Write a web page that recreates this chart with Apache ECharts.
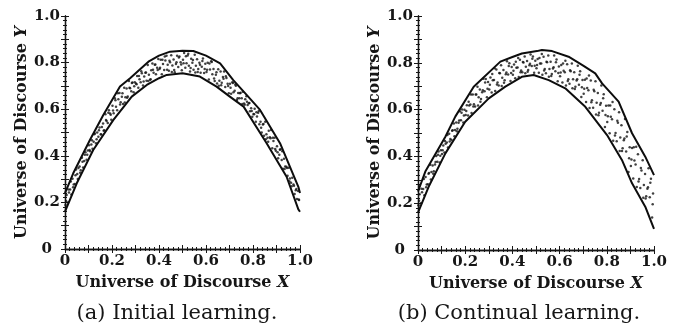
<!DOCTYPE html>
<html>
<head>
<meta charset="utf-8">
<script src="https://cdn.jsdelivr.net/npm/echarts@6/dist/echarts.min.js"></script>
<style>
  html, body { margin: 0; padding: 0; background: #fff; }
  #chart { width: 682px; height: 324px; }
</style>
</head>
<body>
<div id="chart"></div>
<script>
// Tick labels shown every 0.2 on both axes
const tickLabels = ['0', '0.2', '0.4', '0.6', '0.8', '1.0'];
const captions = ['(a) Initial learning.', '(b) Continual learning.'];
const axisTitle = 'Universe of Discourse';

// (a) Initial learning: upper and lower envelope of the learned band
const initUpper = [[0,0.24],[0.035,0.325],[0.106,0.468],[0.163,0.575],[0.234,0.697],[0.277,0.733],[0.355,0.804],[0.4,0.83],[0.447,0.847],[0.5,0.851],[0.546,0.85],[0.6,0.83],[0.66,0.797],[0.716,0.725],[0.77,0.665],[0.83,0.597],[0.915,0.454],[0.993,0.267],[1,0.24]];
const initLower = [[0,0.16],[0.05,0.282],[0.12,0.425],[0.206,0.554],[0.284,0.654],[0.348,0.704],[0.4,0.733],[0.433,0.747],[0.5,0.754],[0.574,0.74],[0.645,0.697],[0.7,0.655],[0.76,0.611],[0.858,0.454],[0.943,0.31],[0.993,0.17],[1,0.16]];
// (a) samples inside the band
const initSamples = [
[0.002,0.189],[0.007,0.232],[0.012,0.200],[0.017,0.243],[0.022,0.255],[0.027,0.234],[0.032,0.302],[0.037,0.277],
[0.042,0.279],[0.047,0.341],[0.052,0.322],[0.057,0.348],[0.062,0.354],[0.067,0.338],[0.072,0.392],[0.077,0.350],
[0.082,0.378],[0.087,0.415],[0.092,0.383],[0.097,0.423],[0.102,0.445],[0.107,0.419],[0.112,0.449],[0.117,0.430],
[0.122,0.460],[0.127,0.496],[0.132,0.454],[0.137,0.500],[0.142,0.482],[0.147,0.521],[0.152,0.492],[0.157,0.524],
[0.162,0.539],[0.167,0.510],[0.172,0.578],[0.177,0.549],[0.182,0.541],[0.187,0.595],[0.192,0.582],[0.197,0.555],
[0.202,0.615],[0.207,0.583],[0.212,0.647],[0.217,0.610],[0.222,0.596],[0.227,0.643],[0.232,0.670],[0.237,0.630],
[0.242,0.653],[0.247,0.622],[0.252,0.692],[0.257,0.651],[0.262,0.689],[0.267,0.654],[0.272,0.721],[0.277,0.690],
[0.282,0.677],[0.287,0.715],[0.292,0.673],[0.297,0.716],[0.302,0.710],[0.307,0.742],[0.312,0.692],[0.317,0.729],
[0.322,0.716],[0.327,0.754],[0.332,0.702],[0.337,0.740],[0.342,0.756],[0.347,0.722],[0.352,0.790],[0.357,0.748],
[0.362,0.726],[0.367,0.767],[0.372,0.796],[0.377,0.756],[0.382,0.791],[0.387,0.750],[0.392,0.778],[0.397,0.815],
[0.402,0.772],[0.407,0.812],[0.412,0.750],[0.417,0.794],[0.422,0.768],[0.427,0.809],[0.432,0.829],[0.437,0.791],
[0.442,0.765],[0.447,0.801],[0.452,0.832],[0.457,0.788],[0.462,0.813],[0.467,0.759],[0.472,0.794],[0.477,0.829],
[0.482,0.781],[0.487,0.826],[0.492,0.801],[0.497,0.767],[0.502,0.812],[0.507,0.841],[0.512,0.778],[0.517,0.797],
[0.522,0.831],[0.527,0.787],[0.532,0.762],[0.537,0.816],[0.542,0.799],[0.547,0.769],[0.552,0.834],[0.557,0.787],
[0.562,0.814],[0.567,0.773],[0.572,0.799],[0.577,0.756],[0.582,0.782],[0.587,0.818],[0.592,0.755],[0.597,0.795],
[0.602,0.760],[0.607,0.799],[0.612,0.727],[0.617,0.770],[0.622,0.806],[0.627,0.750],[0.632,0.773],[0.637,0.721],
[0.642,0.748],[0.647,0.710],[0.652,0.771],[0.657,0.722],[0.662,0.762],[0.667,0.714],[0.672,0.738],[0.677,0.762],
[0.682,0.695],[0.687,0.734],[0.692,0.709],[0.697,0.668],[0.702,0.709],[0.707,0.666],[0.712,0.716],[0.717,0.673],
[0.722,0.679],[0.727,0.701],[0.732,0.640],[0.737,0.670],[0.742,0.647],[0.747,0.671],[0.752,0.647],[0.757,0.675],
[0.762,0.624],[0.767,0.643],[0.772,0.656],[0.777,0.618],[0.782,0.626],[0.787,0.591],[0.792,0.604],[0.797,0.568],
[0.802,0.579],[0.807,0.602],[0.812,0.546],[0.817,0.569],[0.822,0.585],[0.827,0.535],[0.832,0.546],[0.837,0.500],
[0.842,0.534],[0.847,0.486],[0.852,0.546],[0.857,0.493],[0.862,0.477],[0.867,0.508],[0.872,0.480],[0.877,0.511],
[0.882,0.432],[0.887,0.464],[0.892,0.477],[0.897,0.422],[0.902,0.441],[0.907,0.390],[0.912,0.404],[0.917,0.428],
[0.922,0.382],[0.927,0.344],[0.932,0.387],[0.937,0.354],[0.942,0.353],[0.947,0.314],[0.952,0.349],[0.957,0.303],
[0.962,0.284],[0.967,0.306],[0.972,0.277],[0.977,0.236],[0.982,0.252],[0.987,0.215],[0.992,0.249],[0.996,0.210],
[0.0045,0.206],[0.0145,0.255],[0.0245,0.290],[0.0345,0.265],[0.0445,0.317],[0.0545,0.300],[0.0645,0.327],[0.0745,0.374],
[0.0845,0.405],[0.0945,0.405],[0.1045,0.425],[0.1145,0.467],[0.1245,0.493],[0.1345,0.471],[0.1445,0.510],[0.1545,0.491],
[0.1645,0.508],[0.1745,0.554],[0.1845,0.585],[0.1945,0.576],[0.2045,0.594],[0.2145,0.638],[0.2245,0.668],[0.2345,0.620],
[0.2445,0.668],[0.2545,0.629],[0.2645,0.649],[0.2745,0.692],[0.2845,0.712],[0.2945,0.699],[0.3045,0.707],[0.3145,0.743],
[0.3245,0.763],[0.3345,0.719],[0.3445,0.758],[0.3545,0.721],[0.3645,0.729],[0.3745,0.769],[0.3845,0.792],[0.3945,0.768],
[0.4045,0.778],[0.4145,0.812],[0.4245,0.826],[0.4345,0.769],[0.4445,0.808],[0.4545,0.760],[0.4645,0.768],[0.4745,0.802],
[0.4845,0.822],[0.4945,0.792],[0.5045,0.797],[0.5145,0.827],[0.5245,0.838],[0.5345,0.777],[0.5445,0.811],[0.5545,0.758],
[0.5645,0.760],[0.5745,0.791],[0.5845,0.807],[0.5945,0.772],[0.6045,0.769],[0.6145,0.796],[0.6245,0.803],[0.6345,0.732],
[0.6445,0.759],[0.6545,0.701],[0.6645,0.703],[0.6745,0.731],[0.6845,0.741],[0.6945,0.700],[0.7045,0.692],[0.7145,0.712],
[0.7245,0.706],[0.7345,0.647],[0.7445,0.668],[0.7545,0.622],[0.7645,0.619],[0.7745,0.632],[0.7845,0.627],[0.7945,0.592],
[0.8045,0.578],[0.8145,0.587],[0.8245,0.592],[0.8345,0.520],[0.8445,0.536],[0.8545,0.471],[0.8645,0.460],[0.8745,0.475],
[0.8845,0.478],[0.8945,0.429],[0.9045,0.415],[0.9145,0.426],[0.9245,0.419],[0.9345,0.343],[0.9445,0.348],[0.9545,0.291],
[0.9645,0.269],[0.9745,0.271],[0.9845,0.258],[0.9945,0.212]
];

// (b) Continual learning: upper and lower envelope
const contUpper = [[0,0.25],[0.031,0.335],[0.116,0.484],[0.158,0.57],[0.236,0.698],[0.349,0.805],[0.4,0.825],[0.44,0.84],[0.504,0.85],[0.525,0.855],[0.568,0.85],[0.638,0.826],[0.7,0.788],[0.751,0.755],[0.78,0.712],[0.85,0.634],[0.907,0.499],[0.963,0.399],[1,0.32]];
const contLower = [[0,0.16],[0.045,0.27],[0.116,0.413],[0.2,0.548],[0.3,0.648],[0.37,0.698],[0.44,0.74],[0.49,0.748],[0.554,0.726],[0.624,0.691],[0.709,0.612],[0.801,0.491],[0.864,0.385],[0.907,0.285],[0.963,0.185],[1,0.09]];
// (b) samples inside the band
const contSamples = [
[0.002,0.191],[0.007,0.238],[0.012,0.200],[0.017,0.247],[0.022,0.261],[0.027,0.234],[0.032,0.312],[0.037,0.280],
[0.042,0.281],[0.047,0.329],[0.052,0.364],[0.057,0.333],[0.062,0.361],[0.067,0.337],[0.072,0.365],[0.077,0.402],
[0.082,0.377],[0.087,0.421],[0.092,0.374],[0.097,0.426],[0.102,0.410],[0.107,0.447],[0.112,0.417],[0.117,0.454],
[0.122,0.459],[0.127,0.438],[0.132,0.497],[0.137,0.474],[0.142,0.470],[0.147,0.512],[0.152,0.541],[0.157,0.513],
[0.162,0.545],[0.167,0.518],[0.172,0.544],[0.177,0.593],[0.182,0.555],[0.187,0.600],[0.192,0.545],[0.197,0.599],
[0.202,0.577],[0.207,0.619],[0.212,0.575],[0.217,0.617],[0.222,0.622],[0.227,0.586],[0.232,0.664],[0.237,0.623],
[0.242,0.613],[0.247,0.664],[0.252,0.698],[0.257,0.653],[0.262,0.686],[0.267,0.645],[0.272,0.674],[0.277,0.732],
[0.282,0.678],[0.287,0.731],[0.292,0.653],[0.297,0.718],[0.302,0.686],[0.307,0.737],[0.312,0.673],[0.317,0.725],
[0.322,0.727],[0.327,0.679],[0.332,0.771],[0.337,0.716],[0.342,0.703],[0.347,0.755],[0.352,0.789],[0.357,0.736],
[0.362,0.769],[0.367,0.725],[0.372,0.751],[0.377,0.807],[0.382,0.750],[0.387,0.798],[0.392,0.722],[0.397,0.782],
[0.402,0.749],[0.407,0.793],[0.412,0.734],[0.417,0.779],[0.422,0.780],[0.427,0.739],[0.432,0.813],[0.437,0.767],
[0.442,0.760],[0.447,0.801],[0.452,0.827],[0.457,0.783],[0.462,0.808],[0.467,0.769],[0.472,0.790],[0.477,0.836],
[0.482,0.786],[0.487,0.827],[0.492,0.758],[0.497,0.809],[0.502,0.777],[0.507,0.816],[0.512,0.758],[0.517,0.797],
[0.522,0.797],[0.527,0.749],[0.532,0.826],[0.537,0.774],[0.542,0.755],[0.547,0.802],[0.552,0.831],[0.557,0.773],
[0.562,0.805],[0.567,0.752],[0.572,0.776],[0.577,0.831],[0.582,0.764],[0.587,0.814],[0.592,0.721],[0.597,0.784],
[0.602,0.742],[0.607,0.791],[0.612,0.716],[0.617,0.766],[0.622,0.760],[0.627,0.703],[0.632,0.794],[0.637,0.730],
[0.642,0.710],[0.647,0.764],[0.652,0.797],[0.657,0.730],[0.662,0.760],[0.667,0.698],[0.672,0.724],[0.677,0.787],
[0.682,0.706],[0.687,0.764],[0.692,0.654],[0.697,0.727],[0.702,0.668],[0.707,0.728],[0.712,0.632],[0.717,0.692],
[0.722,0.683],[0.727,0.607],[0.732,0.724],[0.737,0.640],[0.742,0.608],[0.747,0.678],[0.752,0.721],[0.757,0.629],
[0.762,0.671],[0.767,0.587],[0.772,0.621],[0.777,0.703],[0.782,0.595],[0.787,0.666],[0.792,0.526],[0.797,0.616],
[0.802,0.547],[0.807,0.618],[0.812,0.499],[0.817,0.569],[0.822,0.559],[0.827,0.467],[0.832,0.602],[0.837,0.500],
[0.842,0.465],[0.847,0.544],[0.852,0.589],[0.857,0.481],[0.862,0.533],[0.867,0.435],[0.872,0.469],[0.877,0.560],
[0.882,0.421],[0.887,0.504],[0.892,0.333],[0.897,0.439],[0.902,0.359],[0.907,0.436],[0.912,0.306],[0.917,0.383],
[0.922,0.365],[0.927,0.269],[0.932,0.409],[0.937,0.303],[0.942,0.265],[0.947,0.340],[0.952,0.384],[0.957,0.278],
[0.962,0.325],[0.967,0.230],[0.972,0.262],[0.977,0.349],[0.982,0.225],[0.987,0.304],[0.992,0.139],[0.996,0.241],
[0.0045,0.211],[0.0145,0.262],[0.0245,0.303],[0.0345,0.268],[0.0445,0.326],[0.0545,0.301],[0.0645,0.326],[0.0745,0.376],
[0.0845,0.407],[0.0945,0.403],[0.1045,0.426],[0.1145,0.466],[0.1245,0.491],[0.1345,0.464],[0.1445,0.510],[0.1545,0.486],
[0.1645,0.507],[0.1745,0.553],[0.1845,0.587],[0.1945,0.575],[0.2045,0.594],[0.2145,0.634],[0.2245,0.665],[0.2345,0.613],
[0.2445,0.664],[0.2545,0.618],[0.2645,0.634],[0.2745,0.683],[0.2845,0.716],[0.2945,0.689],[0.3045,0.706],[0.3145,0.752],
[0.3245,0.777],[0.3345,0.707],[0.3445,0.756],[0.3545,0.701],[0.3645,0.715],[0.3745,0.759],[0.3845,0.786],[0.3945,0.756],
[0.4045,0.766],[0.4145,0.804],[0.4245,0.821],[0.4345,0.760],[0.4445,0.803],[0.4545,0.755],[0.4645,0.762],[0.4745,0.796],
[0.4845,0.817],[0.4945,0.787],[0.5045,0.791],[0.5145,0.821],[0.5245,0.838],[0.5345,0.767],[0.5445,0.805],[0.5545,0.740],
[0.5645,0.744],[0.5745,0.781],[0.5845,0.802],[0.5945,0.756],[0.6045,0.759],[0.6145,0.797],[0.6245,0.809],[0.6345,0.722],
[0.6445,0.768],[0.6545,0.691],[0.6645,0.688],[0.6745,0.730],[0.6845,0.749],[0.6945,0.695],[0.7045,0.689],[0.7145,0.733],
[0.7245,0.746],[0.7345,0.631],[0.7445,0.685],[0.7545,0.579],[0.7645,0.576],[0.7745,0.628],[0.7845,0.649],[0.7945,0.577],
[0.8045,0.572],[0.8145,0.618],[0.8245,0.633],[0.8345,0.489],[0.8445,0.552],[0.8545,0.423],[0.8645,0.423],[0.8745,0.476],
[0.8845,0.485],[0.8945,0.392],[0.9045,0.387],[0.9145,0.439],[0.9245,0.441],[0.9345,0.293],[0.9445,0.350],[0.9545,0.223],
[0.9645,0.220],[0.9745,0.268],[0.9845,0.287],[0.9945,0.196]
];

const SERIF = 'DejaVu Serif';
const INK = '#161616';

function labelFor(v) {
  const n = Math.round(v * 10);
  if (n % 2 !== 0) return '';
  const t = tickLabels[n / 2];
  return t === '0' ? '{z|0}' : t;
}

function baseAxis(extra) {
  return Object.assign({
    type: 'value', min: 0, max: 1, interval: 0.1,
    axisLine: { show: true, lineStyle: { color: INK, width: 1.3 } },
    axisTick: { show: true, inside: true, length: 4, lineStyle: { color: INK, width: 1 } },
    minorTick: { show: true, splitNumber: 5, length: 2, lineStyle: { color: INK, width: 1 } },
    splitLine: { show: false }
  }, extra);
}

const nameStyle = {
  fontFamily: SERIF, fontSize: 16, fontWeight: 'bold', color: INK,
  rich: { i: { fontFamily: SERIF, fontSize: 16, fontWeight: 'bold', fontStyle: 'italic', color: INK } }
};

function tickLabelStyle(zPad) {
  return {
    show: true, formatter: labelFor, fontFamily: SERIF, fontSize: 15, fontWeight: 'bold', color: INK, margin: 5,
    rich: { z: { fontFamily: SERIF, fontSize: 15, fontWeight: 'bold', color: INK, padding: zPad } }
  };
}

const grids = [
  { left: 65, top: 16, width: 235, height: 233 },
  { left: 418, top: 16, width: 236, height: 234 }
];
const captionCenters = [177, 519];

const xAxes = [], yAxes = [];
grids.forEach((g, i) => {
  xAxes.push(baseAxis({ gridIndex: i, position: 'bottom',
    axisLabel: tickLabelStyle([0, 0, 0, 0]),
    name: axisTitle + ' {i|X}', nameLocation: 'middle', nameGap: 26, nameTextStyle: nameStyle }));
  xAxes.push(baseAxis({ gridIndex: i, position: 'top', axisLabel: { show: false } }));
  yAxes.push(baseAxis({ gridIndex: i, position: 'left',
    axisLabel: tickLabelStyle([0, 8, 0, 0]),
    name: axisTitle + ' {i|Y}', nameLocation: 'middle', nameGap: 34, nameTextStyle: nameStyle }));
  yAxes.push(baseAxis({ gridIndex: i, position: 'right', axisLabel: { show: false } }));
});

function bandSeries(i, upper, lower, samples) {
  const common = { xAxisIndex: 2 * i, yAxisIndex: 2 * i, silent: true };
  const edge = { type: 'line', symbol: 'none',
    lineStyle: { color: '#0d0d0d', width: 2, join: 'round' }, z: 3 };
  return [
    Object.assign({ type: 'scatter', data: samples, symbol: 'circle', symbolSize: 2.5,
      itemStyle: { color: '#111' }, z: 2 }, common),
    Object.assign({ data: upper }, edge, common),
    Object.assign({ data: lower }, edge, common)
  ];
}

const chart = echarts.init(document.getElementById('chart'));
chart.setOption({
  animation: false,
  backgroundColor: '#fff',
  grid: grids,
  xAxis: xAxes,
  yAxis: yAxes,
  series: [].concat(
    bandSeries(0, initUpper, initLower, initSamples),
    bandSeries(1, contUpper, contLower, contSamples)
  ),
  graphic: captions.map((text, i) => ({
    type: 'text', x: captionCenters[i], y: 303,
    style: { text: text, font: '21px "DejaVu Serif"', fill: INK, align: 'center', verticalAlign: 'top' }
  }))
});
</script>
</body>
</html>
